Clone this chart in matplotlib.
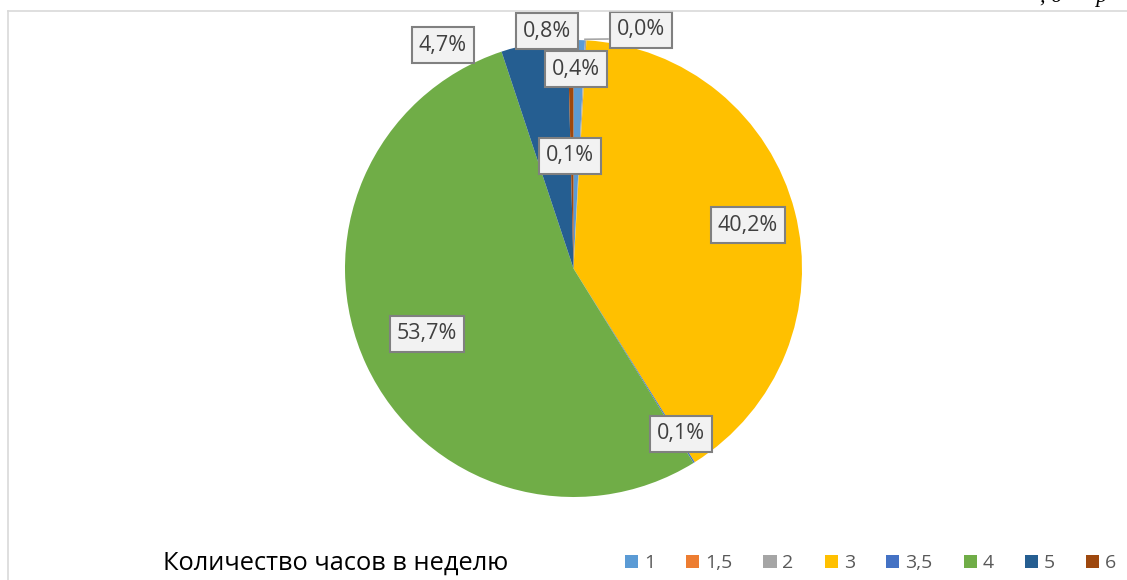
import matplotlib.pyplot as plt
from matplotlib.lines import Line2D
import numpy as np

# данные
categories = ['1', '1,5', '2', '3', '3,5', '4', '5', '6']
shares = [0.8, 0.0, 0.1, 40.2, 0.1, 53.7, 4.7, 0.4]  # проценты
colors = ['#5B9BD5', '#ED7D31', '#A5A5A5', '#FFC000', '#4472C4', '#70AD47', '#255E91', '#9E480E']
title = 'Количество часов в неделю'

# положение подписей (пиксели от левого верхнего угла)
label_pos = [(547, 31), (641, 30), (570, 156), (748, 225), (681, 434), (427, 334), (443, 45), (576, 69)]

W, H = 1127, 580
plt.rcParams['font.family'] = ['Open Sans', 'DejaVu Sans']

fig = plt.figure(figsize=(W / 100, H / 100), dpi=100)
ax = fig.add_axes([0, 0, 1, 1])

cx, cy, R = 573.5, H - 268.5, 228.5
wedges, _ = ax.pie(shares, colors=colors, startangle=90, counterclock=False,
                   center=(cx, cy), radius=R, wedgeprops=dict(linewidth=0))
ax.set_xlim(0, W)
ax.set_ylim(0, H)
ax.axis('off')

# подписи данных
for i, (v, (lx, ly)) in enumerate(zip(shares, label_pos)):
    s = f'{v:.1f}%'.replace('.', ',')
    ax.text(lx, H - ly, s, ha='center', va='center', fontsize=15.5, color='#404040', zorder=5,
            bbox=dict(boxstyle='square,pad=0.33', fc='#F2F2F2', ec='#808080', lw=1.5))

# выноска для нулевого сектора
w = wedges[1]
a = np.deg2rad(w.theta1)
ax.plot([cx + R * np.cos(a), label_pos[1][0] - 33], [cy + R * np.sin(a) + 1, H - 39],
        color='#A6A6A6', lw=1.2, zorder=4)

# рамка области диаграммы
fig.add_artist(Line2D([7.5 / W, 1], [1 - 10.5 / H, 1 - 10.5 / H], color='#D9D9D9', lw=1.2))
fig.add_artist(Line2D([7.5 / W, 7.5 / W], [0, 1 - 10.5 / H], color='#D9D9D9', lw=1.2))

# заголовок внизу
ax.text(163, H - 563, title, ha='left', va='center', fontsize=18.3, color='black')

# легенда
ax.legend(wedges, categories, ncol=8, loc='center left', bbox_to_anchor=(615, H - 563.5),
          bbox_transform=ax.transData, frameon=False, borderpad=0, fontsize=14,
          handlelength=0.68, handleheight=0.68, handletextpad=0.3, columnspacing=1.6,
          labelcolor='#595959')

# обрезанная строка текста сверху
fig.text(1040 / W, 1 - 2 / H, ', д      р', fontsize=16, style='italic', family='Liberation Serif',
         va='baseline', color='black')

fig.savefig('out.png', dpi=100)
